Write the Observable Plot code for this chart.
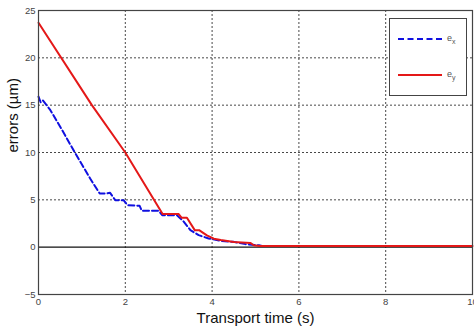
<!DOCTYPE html>
<html>
<head>
<meta charset="utf-8">
<script src="https://cdn.jsdelivr.net/npm/d3@7"></script>
<script src="https://cdn.jsdelivr.net/npm/@observablehq/plot@0.6"></script>
<style>
  html, body { margin: 0; padding: 0; background: #fff; }
  #wrap { position: relative; width: 474px; height: 326px; overflow: hidden; }
  #legend { position: absolute; left: 389px; top: 18px; width: 78px; height: 78px;
    border: 1px solid #444; background: #fff; box-sizing: border-box;
    font-family: "Liberation Sans", Arial, sans-serif; font-size: 9px; color: #555; }
  .row { position: absolute; left: 8px; display: flex; align-items: center; }
  .sw { width: 44px; height: 0; margin-right: 5px; }
  sub { font-size: 7px; }
</style>
</head>
<body>
<div id="wrap">
  <div id="chart"></div>
  <div id="legend">
    <div class="row" style="top:14px"><div class="sw" style="border-top:2px dashed #1010e0"></div><span>e<sub>x</sub></span></div>
    <div class="row" style="top:50px"><div class="sw" style="border-top:2px solid #e41818"></div><span>e<sub>y</sub></span></div>
  </div>
</div>
<script>
const exT = [0, 0.05, 0.1, 0.27, 0.54, 0.85, 1.19, 1.41, 1.56, 1.65, 1.77, 1.96, 2.05, 2.33, 2.38, 2.77, 2.85, 3.19, 3.35, 3.5, 3.69, 3.92, 4.19, 4.5, 4.77, 5.08, 5.15, 10];
const exV = [15.9, 15.3, 15.5, 14.5, 12.4, 9.9, 7.25, 5.67, 5.67, 5.74, 4.96, 4.96, 4.44, 4.37, 3.84, 3.84, 3.38, 3.38, 2.68, 1.8, 1.27, 0.92, 0.67, 0.56, 0.32, 0.2, 0.12, 0.12];
const eyT = [0, 1.23, 2, 2.86, 3.23, 3.3, 3.42, 3.6, 3.7, 3.88, 4.04, 4.2, 4.5, 4.88, 4.96, 5.1, 10];
const eyV = [23.7, 15.0, 10.0, 3.5, 3.5, 3.1, 3.1, 1.8, 1.8, 1.25, 0.9, 0.75, 0.55, 0.45, 0.2, 0.12, 0.12];
const xTicks = [0, 2, 4, 6, 8, 10];
const yTicks = [-5, 0, 5, 10, 15, 20, 25];
const xGrid = [2, 4, 6, 8];
const yGrid = [5, 10, 15, 20];

const ex = exT.map((t, i) => ({t, v: exV[i]}));
const ey = eyT.map((t, i) => ({t, v: eyV[i]}));

const chart = Plot.plot({
  width: 474, height: 326,
  marginLeft: 38, marginRight: 2, marginTop: 10, marginBottom: 32,
  style: {fontFamily: "'Liberation Sans', Arial, sans-serif", background: "#fff", overflow: "visible"},
  x: {domain: [0, 10]},
  y: {domain: [-5, 25]},
  marks: [
    Plot.ruleX(xGrid, {stroke: "#333", strokeWidth: 0.9, strokeDasharray: "2,2"}),
    Plot.ruleY(yGrid, {stroke: "#333", strokeWidth: 0.9, strokeDasharray: "2,2"}),
    Plot.ruleY([0], {stroke: "#111", strokeWidth: 1.4}),
    Plot.line(ex, {x: "t", y: "v", stroke: "#1010e0", strokeWidth: 2, strokeDasharray: "6,3"}),
    Plot.line(ey, {x: "t", y: "v", stroke: "#e41818", strokeWidth: 2}),
    Plot.frame({stroke: "#444", strokeWidth: 1.2}),
    Plot.axisX(xTicks, {tickSize: 0, tickPadding: 4, fontSize: 9.5, fill: "#444", label: null}),
    Plot.axisY(yTicks, {tickSize: 0, tickPadding: 3, fontSize: 9.5, fill: "#444", label: null}),
    Plot.text(["Transport time (s)"], {frameAnchor: "bottom", dy: 24, fontSize: 15, fill: "#111", lineAnchor: "middle"}),
    Plot.text(["errors (µm)"], {frameAnchor: "left", dx: -25, rotate: -90, fontSize: 15, fill: "#111"})
  ]
});
document.getElementById("chart").appendChild(chart);
</script>
</body>
</html>
